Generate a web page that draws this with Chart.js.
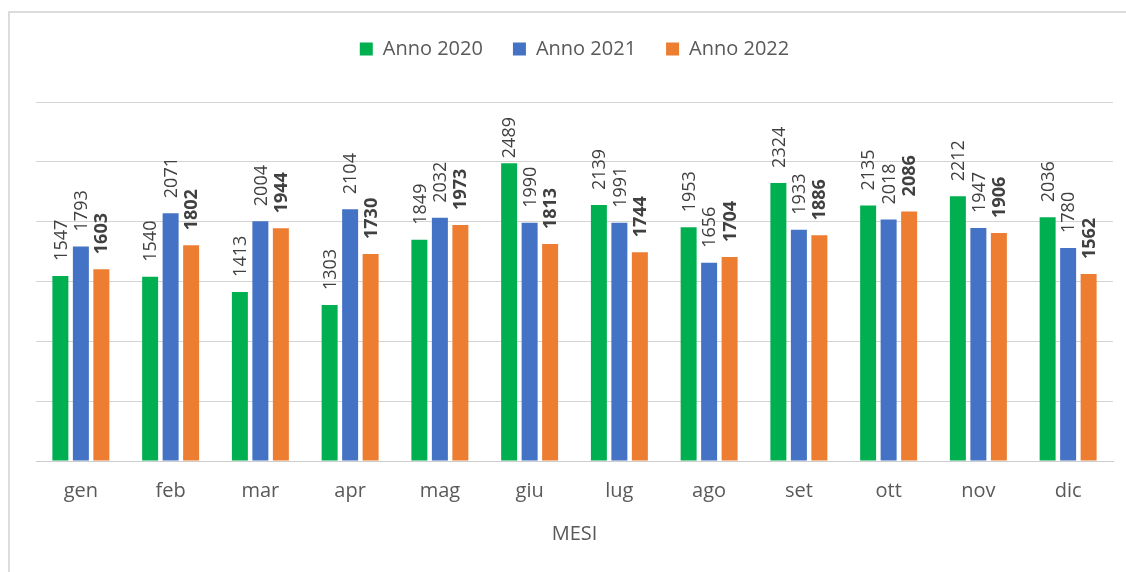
<!DOCTYPE html>
<html lang="it">
<head>
<meta charset="utf-8">
<title>Mesi 2020-2022</title>
<script src="https://cdn.jsdelivr.net/npm/chart.js@4.4.1/dist/chart.umd.min.js"></script>
<style>
  html, body { margin: 0; padding: 0; background: #ffffff; }
  #wrap { position: relative; width: 1126px; height: 572px; overflow: hidden; }
  #frame {
    position: absolute; left: 8px; top: 11px; width: 1200px; height: 700px;
    border-left: 2px solid #dcdcdc; border-top: 2px solid #dcdcdc;
    box-sizing: border-box;
  }
  #chart { position: absolute; left: 0; top: 0; }
</style>
</head>
<body>
<div id="wrap">
  <div id="frame"></div>
  <canvas id="chart" width="1126" height="572"></canvas>
</div>
<script>
// Months and yearly values
const mesi = ['gen', 'feb', 'mar', 'apr', 'mag', 'giu', 'lug', 'ago', 'set', 'ott', 'nov', 'dic'];
const anno2020 = [1547, 1540, 1413, 1303, 1849, 2489, 2139, 1953, 2324, 2135, 2212, 2036];
const anno2021 = [1793, 2071, 2004, 2104, 2032, 1990, 1991, 1656, 1933, 2018, 1947, 1780];
const anno2022 = [1603, 1802, 1944, 1730, 1973, 1813, 1744, 1704, 1886, 2086, 1906, 1562];
const serieNomi = ['Anno 2020', 'Anno 2021', 'Anno 2022'];
const yTicks = [0, 500, 1000, 1500, 2000, 2500, 3000];

const colori = ['#00B050', '#4472C4', '#ED7D31'];
const FONT = "'Open Sans', 'DejaVu Sans', sans-serif";

// Rotated value labels above every bar
const barValueLabels = {
  id: 'barValueLabels',
  afterDatasetsDraw(chart) {
    const ctx = chart.ctx;
    const gap = 15;
    const minTop = chart.chartArea.top + 15;
    chart.data.datasets.forEach((ds, i) => {
      const meta = chart.getDatasetMeta(i);
      if (meta.hidden) return;
      ctx.save();
      ctx.font = (i === 2 ? 'bold ' : '') + '18px ' + FONT;
      ctx.fillStyle = '#404040';
      ctx.textAlign = 'left';
      ctx.textBaseline = 'middle';
      meta.data.forEach((bar, j) => {
        const txt = String(ds.data[j]);
        const w = ctx.measureText(txt).width;
        let start = bar.y - gap;
        if (start - w < minTop) start = minTop + w;
        ctx.save();
        ctx.translate(bar.x + 1, start);
        ctx.rotate(-Math.PI / 2);
        ctx.fillText(txt, 0, 0);
        ctx.restore();
      });
      ctx.restore();
    });
  }
};

// Extra room between the legend and the plot
const legendSpacing = {
  id: 'legendSpacing',
  beforeInit(chart) {
    const origFit = chart.legend.fit;
    chart.legend.fit = function () {
      origFit.bind(chart.legend)();
      this.height += 33;
    };
  }
};

function draw() {
  new Chart(document.getElementById('chart'), {
    type: 'bar',
    data: {
      labels: mesi,
      datasets: [anno2020, anno2021, anno2022].map((vals, i) => ({
        label: serieNomi[i],
        data: vals,
        backgroundColor: colori[i],
        borderWidth: 0,
        barPercentage: 0.78,
        categoryPercentage: 0.685
      }))
    },
    options: {
      responsive: false,
      animation: false,
      events: [],
      layout: { padding: { left: 36, right: 13, top: 9, bottom: 22 } },
      plugins: {
        legend: {
          position: 'top',
          align: 'center',
          labels: {
            boxWidth: 13,
            boxHeight: 13,
            padding: 30,
            color: '#595959',
            font: { family: FONT, size: 20 }
          }
        },
        tooltip: { enabled: false },
        title: { display: false }
      },
      scales: {
        x: {
          grid: { display: false, drawTicks: false },
          border: { display: true, color: '#cccccc', width: 1 },
          ticks: {
            padding: 18,
            color: '#595959',
            font: { family: FONT, size: 20 }
          },
          title: {
            display: true,
            text: 'MESI',
            color: '#595959',
            font: { family: FONT, size: 20 },
            padding: { top: 1, bottom: 4 }
          }
        },
        y: {
          min: yTicks[0],
          max: yTicks[yTicks.length - 1],
          afterBuildTicks(scale) {
            scale.ticks = yTicks.map(v => ({ value: v }));
          },
          grid: { color: '#d4d4d4', lineWidth: 1, drawTicks: false },
          border: { display: false },
          ticks: { display: false }
        }
      }
    },
    plugins: [barValueLabels, legendSpacing]
  });
}

if (document.fonts && document.fonts.load) {
  Promise.all([
    document.fonts.load("20px 'Open Sans'"),
    document.fonts.load("bold 18px 'Open Sans'")
  ]).then(draw, draw);
} else {
  draw();
}
</script>
</body>
</html>
